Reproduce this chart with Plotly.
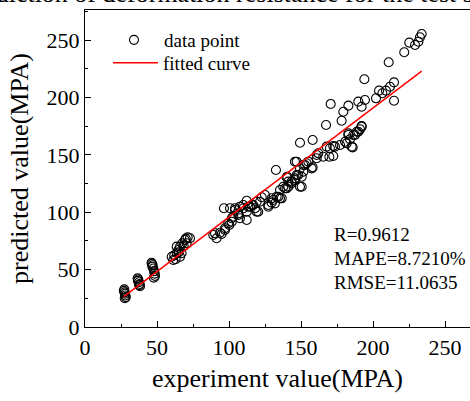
import plotly.graph_objects as go

# ---- data (experiment value, predicted value) ----
exp_a = [27.3, 27.0, 27.5, 27.8, 28.0, 28.3, 27.6]
pred_a = [32.8, 31.5, 30.2, 29.0, 27.5, 26.0, 25.0]

exp_b = [36.5, 37.0, 36.8, 37.5, 38.0, 38.2, 37.6]
pred_b = [42.5, 41.5, 40.2, 39.0, 37.5, 35.5, 36.5]

exp_c = [46.2, 46.6, 47.0, 46.8, 47.5, 48.0, 48.4, 48.6, 47.8]
pred_c = [56.0, 55.0, 53.8, 52.5, 51.0, 48.5, 46.5, 44.5, 43.0]

exp_d = [60.2, 61.3, 62.9, 63.7, 64.8, 66.0, 67.6, 69.4, 71.3, 72.9, 70.6, 66.0,
         67.1, 63.7, 65.0, 68.5, 70.0, 62.0]
pred_d = [61.2, 58.4, 59.0, 64.2, 67.1, 70.0, 72.9, 75.8, 78.1, 77.3, 72.9, 61.2,
          64.2, 70.0, 65.0, 70.5, 77.0, 62.5]

exp_e = [89.1, 90.3, 91.4, 93.8, 94.9, 97.2, 97.2, 99.5, 100.2, 101.9, 101.9, 96.5,
         100.7, 104.2, 104.2, 103.0, 106.5, 106.5, 107.6, 112.3, 110.0, 107.6, 109.9,
         112.3, 113.4, 112.3, 114.6, 115.8, 116.9, 118.1, 119.2, 120.3, 119.2, 121.5,
         122.7, 125.0, 127.3, 127.3, 129.6, 129.6, 130.7, 131.9, 133.1, 134.3, 135.4,
         136.6, 132.6, 135.4, 137.7, 138.9, 140.0, 141.2, 141.2, 140.0, 140.5, 143.5,
         143.5, 145.8, 145.8, 147.0, 148.1, 149.3, 150.5, 150.5, 151.6, 149.3, 151.6,
         152.8, 147.0, 145.8, 153.9, 155.1, 157.4, 158.1, 160.9, 160.9, 162.0, 149.3,
         158.1]
pred_e = [80.1, 81.6, 77.3, 82.1, 81.0, 84.5, 86.0, 90.3, 88.9, 91.7, 94.7, 103.4,
          103.4, 103.4, 101.9, 96.1, 99.0, 97.6, 94.7, 93.2, 103.4, 104.8, 106.3,
          110.0, 104.8, 100.4, 104.8, 106.3, 106.3, 103.4, 100.4, 100.4, 109.1, 109.1,
          113.0, 115.0, 104.8, 106.3, 108.3, 112.1, 110.6, 107.7, 113.5, 113.5, 112.1,
          112.1, 136.8, 119.3, 122.2, 120.8, 120.8, 122.2, 126.6, 130.4, 130.9, 126.6,
          125.2, 128.0, 129.5, 132.4, 132.4, 122.2, 122.2, 130.9, 135.3, 138.2, 141.1,
          141.1, 144.0, 144.0, 142.6, 144.0, 138.2, 139.1, 147.0, 149.8, 151.3, 160.5,
          162.9]

exp_f = [165.5, 169.7, 172.4, 170.1, 173.6, 167.8, 172.4, 177.1, 181.7, 180.6, 184.0,
         185.2, 185.9, 182.9, 182.9, 186.3, 187.5, 188.7, 189.8, 191.0, 192.1, 192.1,
         167.4, 178.2, 170.6, 179.4, 182.9, 189.8, 192.1, 194.4, 194.0, 202.1, 204.2,
         206.5, 209.0, 211.8, 214.6, 214.6, 210.9, 221.7, 225.2, 229.2, 231.5, 232.6,
         233.8]
pred_f = [148.3, 148.3, 149.0, 155.6, 157.1, 157.1, 157.7, 158.5, 160.0, 161.4, 163.5,
          157.1, 156.5, 167.2, 168.7, 167.2, 167.2, 170.1, 170.1, 172.2, 174.5, 175.1,
          176.0, 179.7, 194.3, 187.5, 192.8, 196.3, 191.9, 197.7, 215.8, 199.2, 205.9,
          203.6, 205.9, 209.3, 213.1, 197.1, 230.6, 239.3, 247.7, 245.6, 248.5, 252.4,
          255.2]

experiment = exp_a + exp_b + exp_c + exp_d + exp_e + exp_f
predicted = pred_a + pred_b + pred_c + pred_d + pred_e + pred_f

# linear fit (slope, intercept)
fit_slope = 0.95
fit_intercept = 0.8

stats_text = ["R=0.9612", "MAPE=8.7210%", "RMSE=11.0635"]
title_text = "Prediction of deformation resistance for the test set"

x_ticks = [0, 50, 100, 150, 200, 250]
y_ticks = [0, 50, 100, 150, 200, 250]

FONT = "Liberation Serif"

fit_x = [min(experiment), max(experiment)]
fit_y = [fit_slope * v + fit_intercept for v in fit_x]

fig = go.Figure()
fig.add_trace(go.Scatter(
    x=experiment, y=predicted, mode="markers", name="data point", legend="legend",
    marker=dict(symbol="circle-open", size=9, color="black", line=dict(width=1.1, color="black")),
))
fig.add_trace(go.Scatter(
    x=fit_x, y=fit_y, mode="lines", name="fitted curve", legend="legend2",
    line=dict(color="red", width=1.5),
))

W, H = 470, 401
ml, mr, mt, mb = 85, 0, 10, 74
pw, ph = W - ml - mr, H - mt - mb

legend_common = dict(
    xanchor="left", yanchor="top", bgcolor="rgba(0,0,0,0)", borderwidth=0,
    font=dict(family=FONT, size=19, color="black"),
)

fig.update_layout(
    width=W, height=H,
    margin=dict(l=ml, r=mr, t=mt, b=mb, pad=0),
    paper_bgcolor="white", plot_bgcolor="white",
    font=dict(family=FONT, size=22, color="black"),
    showlegend=True,
    legend=dict(x=(104 - ml) / pw, y=1 - (21 - mt) / ph, itemwidth=50, **legend_common),
    legend2=dict(x=(108 - ml) / pw, y=1 - (44 - mt) / ph, itemwidth=45, **legend_common),
)

fig.update_xaxes(
    range=[0, pw / 1.44], tickvals=x_ticks, ticktext=[str(t) for t in x_ticks],
    showline=True, linecolor="black", linewidth=1.2, mirror=True,
    ticks="inside", ticklen=6, tickwidth=1, tickcolor="black",
    minor=dict(ticks="inside", ticklen=3, tickwidth=1, tickcolor="black", dtick=25, showgrid=False),
    showgrid=False, zeroline=False,
    tickfont=dict(family=FONT, size=22, color="black"),
    title=dict(text="experiment value(MPA)", font=dict(family=FONT, size=26, color="black"), standoff=10),
)
fig.update_yaxes(
    range=[0, ph / 1.148], tickvals=y_ticks, ticktext=[str(t) for t in y_ticks],
    showline=True, linecolor="black", linewidth=1.2, mirror=False,
    ticks="inside", ticklen=6, tickwidth=1, tickcolor="black",
    minor=dict(ticks="inside", ticklen=3, tickwidth=1, tickcolor="black", dtick=25, showgrid=False),
    showgrid=False, zeroline=False,
    tickfont=dict(family=FONT, size=22, color="black"),
    title=dict(text="predicted value(MPA)", font=dict(family=FONT, size=26, color="black"), standoff=10),
)

# statistics text block
for i, s in enumerate(stats_text):
    fig.add_annotation(
        x=(332 - ml) / pw, y=1 - (234 + 24 * i - mt) / ph, xref="paper", yref="paper",
        xanchor="left", yanchor="middle", text=s, showarrow=False,
        font=dict(family=FONT, size=19, color="black"),
    )

# title (cut off at the top of the image, as in the reference)
fig.add_annotation(
    x=(-41 - ml) / pw, y=1 + (mt - 10) / ph, xref="paper", yref="paper",
    xanchor="left", yanchor="bottom", text=title_text, showarrow=False,
    font=dict(family=FONT, size=26, color="black"),
)

fig.write_html("out.html")
